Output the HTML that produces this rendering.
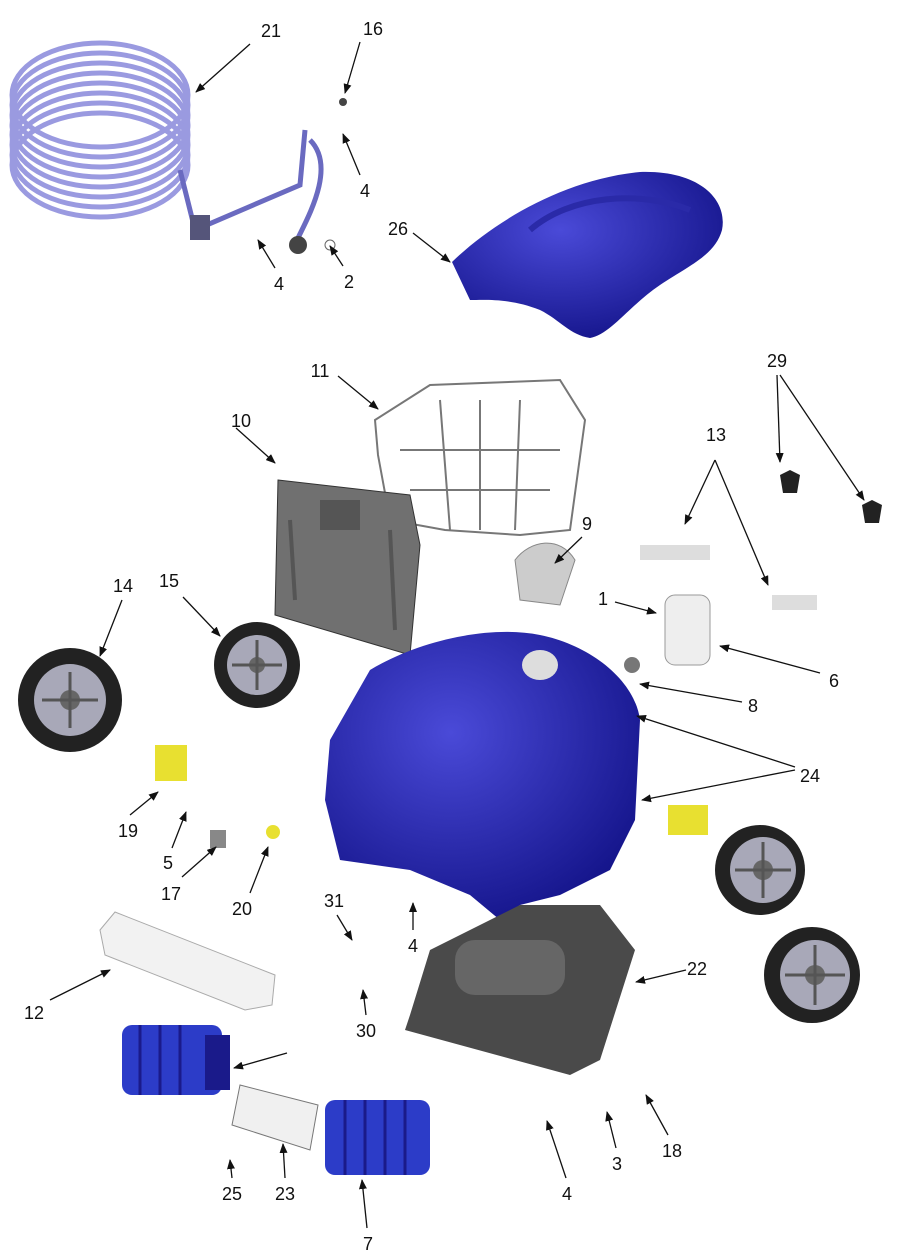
<!DOCTYPE html>
<html><head><meta charset="utf-8"><style>
html,body{margin:0;padding:0;background:#fff}
svg{display:block}
text{font-family:"Liberation Sans",sans-serif;font-size:18px;fill:#111;text-anchor:middle}
</style></head><body>
<svg width="900" height="1259" viewBox="0 0 900 1259" xmlns="http://www.w3.org/2000/svg">
<defs>
<marker id="a" markerWidth="10" markerHeight="8" refX="9" refY="4" orient="auto" markerUnits="userSpaceOnUse"><path d="M0,0 L10,4 L0,8 Z" fill="#111"/></marker>
<radialGradient id="bl" cx="40%" cy="35%" r="70%"><stop offset="0" stop-color="#4a4ad8"/><stop offset="1" stop-color="#14148a"/></radialGradient>
</defs>
<!-- cable coil -->
<g fill="none" stroke="#9a9ae0" stroke-width="5">
<ellipse cx="100" cy="95" rx="88" ry="52"/><ellipse cx="100" cy="105" rx="88" ry="52"/><ellipse cx="100" cy="115" rx="88" ry="52"/><ellipse cx="100" cy="125" rx="88" ry="52"/><ellipse cx="100" cy="135" rx="88" ry="52"/><ellipse cx="100" cy="145" rx="88" ry="52"/><ellipse cx="100" cy="155" rx="88" ry="52"/><ellipse cx="100" cy="165" rx="88" ry="52"/>
</g>
<path d="M180,170 L195,230 L300,185 L305,130 M310,140 C340,170 300,230 295,245" fill="none" stroke="#6a6ac0" stroke-width="5"/>
<rect x="190" y="215" width="20" height="25" fill="#55557a"/>
<circle cx="298" cy="245" r="9" fill="#444"/><circle cx="330" cy="245" r="5" fill="none" stroke="#666"/>
<circle cx="343" cy="102" r="4" fill="#444"/>
<!-- cover -->
<path d="M452,262 C490,225 560,180 640,172 C700,170 728,200 722,230 C715,255 690,265 660,285 C630,305 610,335 590,338 C570,335 560,320 540,310 C510,298 485,300 470,300 Z" fill="url(#bl)"/>
<path d="M530,230 C570,195 640,190 690,210" fill="none" stroke="#2a2aa8" stroke-width="6"/>
<!-- cage -->
<g fill="none" stroke="#777" stroke-width="2">
<path d="M375,420 L430,385 L560,380 L585,420 L570,530 L520,535 L445,530 L390,520 L378,455 Z"/>
<path d="M400,450 L560,450 M410,490 L550,490 M440,400 L450,530 M480,400 L480,530 M520,400 L515,530"/>
</g>
<!-- filter -->
<path d="M278,480 L410,495 L420,545 L410,655 L275,615 Z" fill="#707070" stroke="#333"/>
<rect x="320" y="500" width="40" height="30" fill="#555"/>
<path d="M290,520 L295,600 M390,530 L395,630" stroke="#555" stroke-width="4"/>
<!-- wheels -->
<g>
<circle cx="70" cy="700" r="52" fill="#222"/><circle cx="70" cy="700" r="36" fill="#a8a8b8"/><circle cx="70" cy="700" r="10" fill="#666"/>
<circle cx="257" cy="665" r="43" fill="#222"/><circle cx="257" cy="665" r="30" fill="#a8a8b8"/><circle cx="257" cy="665" r="8" fill="#666"/>
<circle cx="760" cy="870" r="45" fill="#222"/><circle cx="763" cy="870" r="33" fill="#a8a8b8"/><circle cx="763" cy="870" r="10" fill="#666"/>
<circle cx="812" cy="975" r="48" fill="#222"/><circle cx="815" cy="975" r="35" fill="#a8a8b8"/><circle cx="815" cy="975" r="10" fill="#666"/>
<g stroke="#555" stroke-width="3"><path d="M70,672 V728 M42,700 H98 M257,640 V690 M232,665 H282 M763,842 V898 M735,870 H791 M815,945 V1005 M785,975 H845"/></g>
</g>
<!-- yellow parts -->
<rect x="155" y="745" width="32" height="36" fill="#e8e030"/><rect x="668" y="805" width="40" height="30" fill="#e8e030"/><circle cx="273" cy="832" r="7" fill="#e8e030"/><circle cx="520" cy="870" r="10" fill="#e8e030"/>
<rect x="210" y="830" width="16" height="18" fill="#888"/>
<!-- small parts right -->
<rect x="640" y="545" width="70" height="15" fill="#ddd"/><rect x="772" y="595" width="45" height="15" fill="#ddd"/>
<rect x="665" y="595" width="45" height="70" rx="10" fill="#eee" stroke="#999"/>
<circle cx="632" cy="665" r="8" fill="#777"/>
<path d="M780,475 l10,-5 l10,5 l-3,18 h-14 z" fill="#222"/><path d="M862,505 l10,-5 l10,5 l-3,18 h-14 z" fill="#222"/>
<path d="M515,560 C530,540 560,535 575,560 L560,605 L520,600 Z" fill="#ccc" stroke="#888"/>
<!-- body -->
<path d="M370,670 C420,640 490,625 540,635 C590,645 635,680 640,720 L635,820 L610,870 L560,895 L520,905 L500,920 L470,895 L410,870 L340,860 L325,800 L330,740 Z" fill="url(#bl)"/>
<ellipse cx="540" cy="665" rx="18" ry="15" fill="#ddd"/>
<!-- base -->
<path d="M410,1015 L430,950 L520,905 L600,905 L635,950 L600,1060 L570,1075 L405,1030 Z" fill="#4a4a4a"/>
<rect x="455" y="940" width="110" height="55" rx="20" fill="#666"/>
<!-- bumper -->
<path d="M100,930 L115,912 L275,975 L272,1005 L245,1010 L105,955 Z" fill="#f2f2f2" stroke="#aaa"/>
<!-- brushes, roller -->
<rect x="122" y="1025" width="100" height="70" rx="10" fill="#2c3cc8"/><rect x="205" y="1035" width="25" height="55" fill="#1a1a8a"/>
<rect x="325" y="1100" width="105" height="75" rx="10" fill="#2c3cc8"/>
<g stroke="#1a1a8a" stroke-width="3"><path d="M140,1025 V1095 M160,1025 V1095 M180,1025 V1095 M345,1100 V1175 M365,1100 V1175 M385,1100 V1175 M405,1100 V1175"/></g>
<path d="M240,1085 L318,1105 L310,1150 L232,1125 Z" fill="#f0f0f0" stroke="#777"/>
<!-- arrows -->
<g stroke="#111" stroke-width="1.3" fill="none" marker-end="url(#a)">
<line x1="250" y1="44" x2="196" y2="92"/>
<line x1="360" y1="42" x2="345" y2="93"/>
<line x1="360" y1="175" x2="343" y2="134"/>
<line x1="413" y1="233" x2="450" y2="262"/>
<line x1="275" y1="268" x2="258" y2="240"/>
<line x1="343" y1="266" x2="330" y2="246"/>
<line x1="338" y1="376" x2="378" y2="409"/>
<line x1="236" y1="428" x2="275" y2="463"/>
<line x1="777" y1="375" x2="780" y2="462"/>
<line x1="780" y1="375" x2="864" y2="500"/>
<line x1="715" y1="460" x2="685" y2="524"/>
<line x1="715" y1="460" x2="768" y2="585"/>
<line x1="582" y1="537" x2="555" y2="563"/>
<line x1="615" y1="602" x2="656" y2="613"/>
<line x1="820" y1="673" x2="720" y2="646"/>
<line x1="742" y1="702" x2="640" y2="684"/>
<line x1="122" y1="600" x2="100" y2="656"/>
<line x1="183" y1="597" x2="220" y2="636"/>
<line x1="795" y1="767" x2="637" y2="716"/>
<line x1="795" y1="770" x2="642" y2="800"/>
<line x1="130" y1="815" x2="158" y2="792"/>
<line x1="172" y1="848" x2="186" y2="812"/>
<line x1="182" y1="877" x2="216" y2="847"/>
<line x1="250" y1="893" x2="268" y2="847"/>
<line x1="337" y1="915" x2="352" y2="940"/>
<line x1="413" y1="930" x2="413" y2="903"/>
<line x1="686" y1="970" x2="636" y2="982"/>
<line x1="50" y1="1000" x2="110" y2="970"/>
<line x1="366" y1="1015" x2="363" y2="990"/>
<line x1="566" y1="1178" x2="547" y2="1121"/>
<line x1="616" y1="1148" x2="607" y2="1112"/>
<line x1="668" y1="1135" x2="646" y2="1095"/>
<line x1="232" y1="1178" x2="230" y2="1160"/>
<line x1="285" y1="1178" x2="283" y2="1144"/>
<line x1="367" y1="1228" x2="362" y2="1180"/>
<line x1="287" y1="1053" x2="234" y2="1068"/>
</g>
<!-- labels -->
<text x="271" y="37">21</text><text x="373" y="35">16</text><text x="365" y="197">4</text>
<text x="398" y="235">26</text><text x="279" y="290">4</text><text x="349" y="288">2</text>
<text x="320" y="377">11</text><text x="241" y="427">10</text><text x="777" y="367">29</text>
<text x="716" y="441">13</text><text x="587" y="530">9</text><text x="603" y="605">1</text>
<text x="834" y="687">6</text><text x="753" y="712">8</text><text x="123" y="592">14</text>
<text x="169" y="587">15</text><text x="810" y="782">24</text><text x="128" y="837">19</text>
<text x="168" y="869">5</text><text x="171" y="900">17</text><text x="242" y="915">20</text>
<text x="334" y="907">31</text><text x="413" y="952">4</text><text x="697" y="975">22</text>
<text x="34" y="1019">12</text><text x="366" y="1037">30</text><text x="567" y="1200">4</text>
<text x="617" y="1170">3</text><text x="672" y="1157">18</text><text x="232" y="1200">25</text>
<text x="285" y="1200">23</text><text x="368" y="1250">7</text>
</svg>
</body></html>
